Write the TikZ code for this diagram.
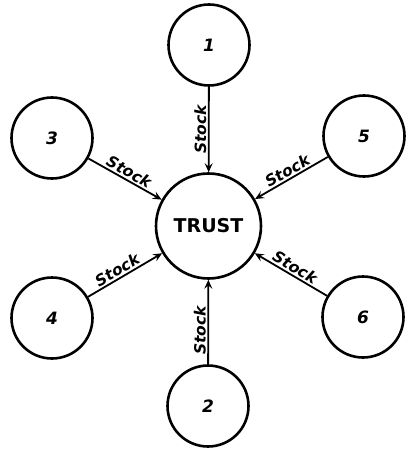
\documentclass[tikz,border=0pt]{standalone}
\usepackage{fontspec}
\setmainfont{DejaVu Sans}
\usetikzlibrary{arrows.meta}
\tikzset{
  firm/.style={circle, draw, line width=2.6pt, minimum size=81pt, inner sep=0pt,
    font=\fontsize{17}{17}\selectfont\bfseries\itshape},
  trustnode/.style={circle, draw, line width=2.6pt, minimum size=105pt, inner sep=0pt,
    font=\fontsize{19}{19}\selectfont\bfseries},
  flow/.style={line width=1.8pt, -{Stealth[length=9pt,width=8pt,inset=3.5pt]}},
  backflow/.style={line width=1.8pt, {Stealth[length=9pt,width=8pt,inset=3.5pt]}-},
  lbl/.style={sloped, above, inner sep=1.5pt, font=\fontsize{15.5}{15.5}\selectfont\bfseries\itshape}
}
\begin{document}
\begin{tikzpicture}[x=1pt,y=-1pt]
\useasboundingbox (0,0) rectangle (408,449);
\node[trustnode] (t) at (208.5,226) {TRUST};
\node[firm] (n1) at (209,45) {1};
\node[firm] (n2) at (208,406) {2};
\node[firm] (n3) at (52,138) {3};
\node[firm] (n4) at (52,318) {4};
\node[firm] (n5) at (364,136) {5};
\node[firm] (n6) at (363,317) {6};
\draw[backflow] (t) -- node[lbl] {Stock} (n1);
\draw[flow] (n2) -- node[lbl, pos=0.4] {Stock} (t);
\draw[flow] (n3) -- node[lbl] {Stock} (t);
\draw[flow] (n4) -- node[lbl, pos=0.45] {Stock} (t);
\draw[backflow] (t) -- node[lbl] {Stock} (n5);
\draw[backflow] (t) -- node[lbl] {Stock} (n6);
\end{tikzpicture}
\end{document}
